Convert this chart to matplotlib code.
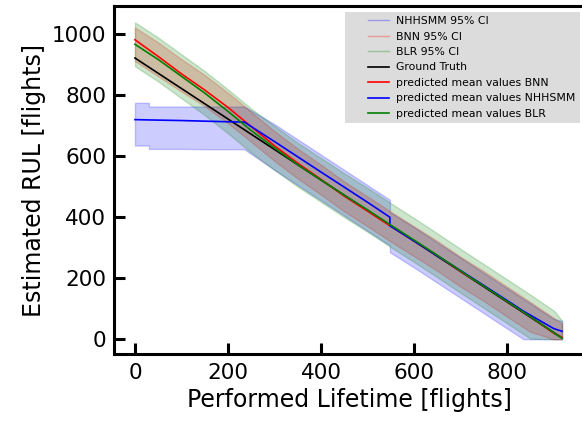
import numpy as np
import matplotlib.pyplot as plt
from matplotlib.lines import Line2D
from matplotlib.legend_handler import HandlerLine2D

# Ground truth
t_truth = [0, 912]
rul_truth = [922, 10]

# BNN
t_bnn = [0, 50, 100, 150, 200, 250, 300, 350, 400, 450, 500, 550, 600, 650, 700, 750, 800, 850, 900, 918]
bnn_mean = [982, 927, 870, 817, 760, 697, 634, 577, 524, 469, 420, 370, 322, 274, 222, 175, 124, 74, 20, 6]
bnn_lo = [912, 862, 812, 764, 708, 647, 584, 527, 474, 419, 370, 320, 272, 224, 172, 125, 74, 24, 0, 0]
bnn_hi = [1022, 973, 918, 866, 808, 745, 682, 625, 572, 517, 468, 418, 370, 322, 270, 223, 172, 122, 70, 50]

# BLR
t_blr = [0, 50, 100, 150, 200, 250, 300, 350, 400, 450, 500, 550, 600, 650, 700, 750, 800, 850, 900, 903, 918]
blr_mean = [967, 917, 862, 807, 747, 684, 627, 572, 522, 472, 424, 374, 325, 275, 224, 174, 124, 74, 22, 18, 3]
blr_lo = [895, 845, 790, 735, 675, 612, 555, 500, 450, 400, 352, 302, 253, 203, 152, 102, 52, 2, 0, 0, 0]
blr_hi = [1039, 989, 934, 879, 819, 756, 699, 644, 594, 544, 496, 446, 397, 347, 296, 246, 196, 146, 94, 90, 60]

# NHHSMM
t_hsmm = [0, 30, 30, 100, 150, 200, 235, 300, 400, 500, 548, 548, 600, 700, 800, 835, 900, 918]
hsmm_mean = [720, 719, 719, 717, 715, 713, 712, 648, 548, 449, 400, 372, 322, 225, 127, 92, 35, 26]
hsmm_lo = [635, 635, 624, 624, 623, 623, 623, 555, 455, 355, 307, 285, 235, 135, 35, 0, 0, 0]
hsmm_hi = [775, 775, 763, 763, 763, 763, 763, 705, 605, 505, 457, 417, 367, 267, 167, 132, 67, 60]

fig = plt.figure(figsize=(5.82, 4.23), dpi=100)
ax = fig.add_axes([0.1967, 0.162, 0.809, 0.8227])

ax.fill_between(t_hsmm, hsmm_lo, hsmm_hi, color='blue', alpha=0.2)
ax.fill_between(t_bnn, bnn_lo, bnn_hi, color='red', alpha=0.2)
ax.fill_between(t_blr, blr_lo, blr_hi, color='green', alpha=0.2)
ax.plot(t_truth, rul_truth, color='black', lw=1.2)
ax.plot(t_bnn, bnn_mean, color='red', lw=1.2)
ax.plot(t_hsmm, hsmm_mean, color='blue', lw=1.2)
ax.plot(t_blr, blr_mean, color='green', lw=1.2)

ax.set_xlim(-44, 968)
ax.set_ylim(-50, 1091)
ax.set_xticks([0, 200, 400, 600, 800])
ax.set_yticks([0, 200, 400, 600, 800, 1000])
ax.tick_params(direction='in', length=8, width=2.2, labelsize=15.5, pad=6)
for s in ax.spines.values():
    s.set_linewidth(2.2)
ax.set_xlabel('Performed Lifetime [flights]', fontsize=17)
ax.set_ylabel('Estimated RUL [flights]', fontsize=17)

handles = [
    Line2D([], [], color='blue', alpha=0.3, lw=1),
    Line2D([], [], color='red', alpha=0.3, lw=1),
    Line2D([], [], color='green', alpha=0.3, lw=1),
    Line2D([], [], color='black', lw=1.2),
    Line2D([], [], color='red', lw=1.2),
    Line2D([], [], color='blue', lw=1.2),
    Line2D([], [], color='green', lw=1.2),
]
labels = ['NHHSMM 95% CI', 'BNN 95% CI', 'BLR 95% CI', 'Ground Truth',
          'predicted mean values BNN', 'predicted mean values NHHSMM',
          'predicted mean values BLR']
leg = ax.legend(handles, labels, loc='upper right', fontsize=7.8,
                facecolor='#dcdcdc', edgecolor='none', framealpha=1,
                fancybox=False, handlelength=3.6, handletextpad=0.7,
                handler_map={Line2D: HandlerLine2D(xpad=1.7)})

plt.savefig('out.png', dpi=100)
